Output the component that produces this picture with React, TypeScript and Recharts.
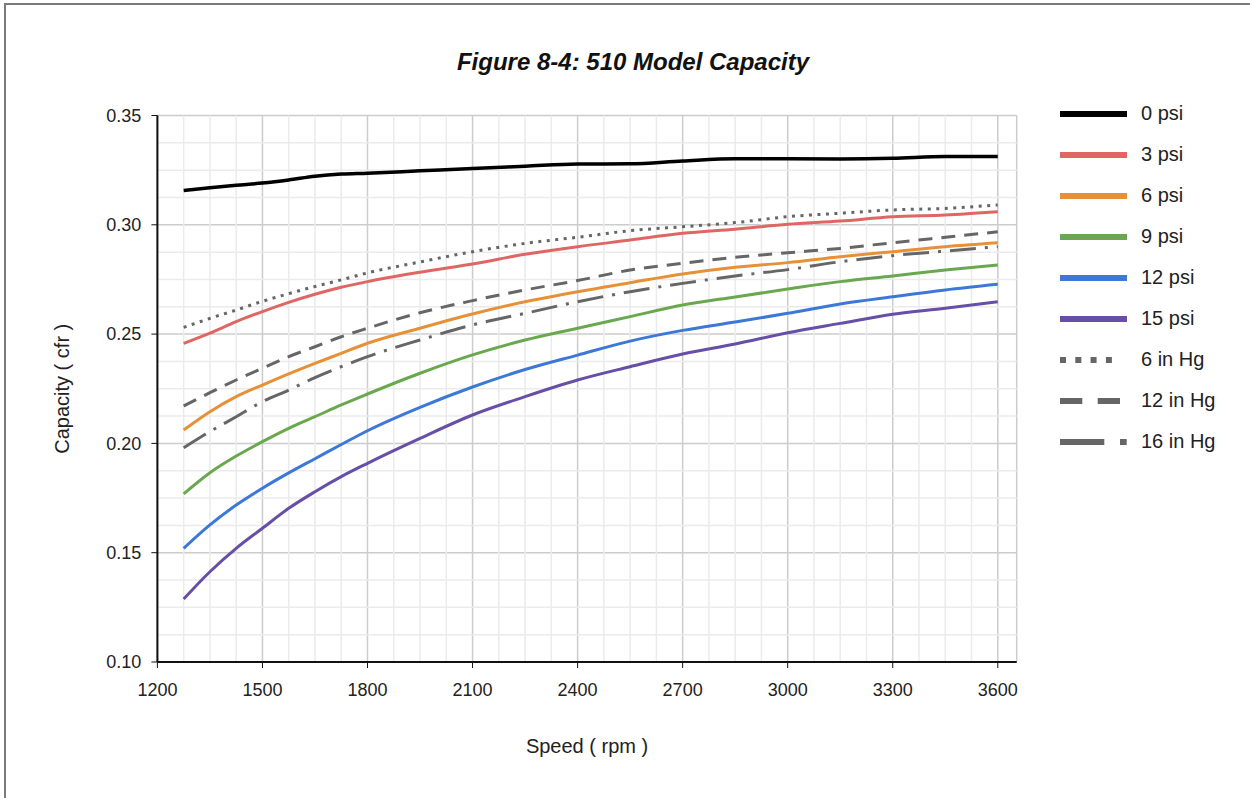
import React from 'react';
import {
  LineChart,
  Line,
  XAxis,
  YAxis,
  CartesianGrid,
  ReferenceLine,
  Legend,
  Label,
} from 'recharts';

// speed (rpm) at which the curves were read
const SPEEDS = [
  1275, 1350, 1425, 1500, 1575, 1650, 1725, 1800, 1950, 2100,
  2250, 2400, 2550, 2700, 2850, 3000, 3150, 3300, 3450, 3600,
];

// capacity (cfr) per pressure / vacuum condition
const PSI_0 = [
  0.3157, 0.317, 0.3181, 0.3191, 0.3205, 0.3222, 0.3232, 0.3236, 0.3247, 0.3258,
  0.3268, 0.3278, 0.3279, 0.3292, 0.3302, 0.3302, 0.3301, 0.3304, 0.3313, 0.3313,
];
const PSI_3 = [
  0.2457, 0.2504, 0.2557, 0.2603, 0.2645, 0.2682, 0.2714, 0.274, 0.2783, 0.2821,
  0.2865, 0.29, 0.293, 0.2961, 0.298, 0.3002, 0.3017, 0.3037, 0.3045, 0.306,
];
const PSI_6 = [
  0.2061, 0.2145, 0.2214, 0.2267, 0.2318, 0.2366, 0.2412, 0.2458, 0.2527, 0.2592,
  0.2648, 0.2694, 0.2735, 0.2775, 0.2806, 0.2827, 0.2854, 0.2877, 0.29, 0.2918,
];
const PSI_9 = [
  0.1769, 0.1866, 0.1942, 0.2008, 0.2069, 0.2122, 0.2176, 0.2226, 0.2321, 0.2405,
  0.2473, 0.2527, 0.258, 0.2633, 0.267, 0.2706, 0.274, 0.2766, 0.2793, 0.2816,
];
const PSI_12 = [
  0.152, 0.1627, 0.1718, 0.1795, 0.1865, 0.193, 0.1995, 0.2058, 0.2165, 0.2258,
  0.2338, 0.2404, 0.2468, 0.2517, 0.2555, 0.2595, 0.2638, 0.2671, 0.2702, 0.2728,
];
const PSI_15 = [
  0.1288, 0.1413, 0.152, 0.1612, 0.1703, 0.1779, 0.1848, 0.1909, 0.2023, 0.213,
  0.2214, 0.229, 0.2351, 0.2409, 0.2455, 0.2506, 0.2549, 0.2591, 0.2618, 0.2648,
];
const HG_6 = [
  0.2531, 0.2572, 0.261, 0.265, 0.2685, 0.2718, 0.2748, 0.278, 0.283, 0.2877,
  0.2915, 0.2943, 0.2973, 0.2991, 0.301, 0.3037, 0.3053, 0.3068, 0.3075, 0.3091,
];
const HG_12 = [
  0.2171, 0.2232, 0.229, 0.2344, 0.2397, 0.2442, 0.2488, 0.2527, 0.2598, 0.2653,
  0.2702, 0.2745, 0.2793, 0.2824, 0.2851, 0.2872, 0.2892, 0.2918, 0.2943, 0.2968,
];
const HG_16 = [
  0.198, 0.2054, 0.2122, 0.2191, 0.2244, 0.2301, 0.2351, 0.2397, 0.2473, 0.2542,
  0.2595, 0.2648, 0.2694, 0.2732, 0.2766, 0.2795, 0.2831, 0.2859, 0.288, 0.29,
];

const X_TICKS = [1200, 1500, 1800, 2100, 2400, 2700, 3000, 3300, 3600];
const Y_TICKS = [0.1, 0.15, 0.2, 0.25, 0.3, 0.35];

const SERIES = [
  { key: 'psi0', name: '0 psi', values: PSI_0, color: '#000000', dash: undefined, legendDash: undefined, legendLen: 67 },
  { key: 'psi3', name: '3 psi', values: PSI_3, color: '#e06666', dash: undefined, legendDash: undefined, legendLen: 67 },
  { key: 'psi6', name: '6 psi', values: PSI_6, color: '#e69138', dash: undefined, legendDash: undefined, legendLen: 67 },
  { key: 'psi9', name: '9 psi', values: PSI_9, color: '#6aa84f', dash: undefined, legendDash: undefined, legendLen: 67 },
  { key: 'psi12', name: '12 psi', values: PSI_12, color: '#3c78d8', dash: undefined, legendDash: undefined, legendLen: 67 },
  { key: 'psi15', name: '15 psi', values: PSI_15, color: '#674ea7', dash: undefined, legendDash: undefined, legendLen: 67 },
  { key: 'hg6', name: '6 in Hg', values: HG_6, color: '#666666', dash: '3 5.5', legendDash: '6 9.3', legendLen: 53 },
  { key: 'hg12', name: '12 in Hg', values: HG_12, color: '#666666', dash: '14 9', legendDash: '22.3 15.4', legendLen: 60 },
  { key: 'hg16', name: '16 in Hg', values: HG_16, color: '#666666', dash: '26 9 3 9', legendDash: '44.3 15.7 6.7 60', legendLen: 67 },
];

const data = SPEEDS.map((rpm, i) => {
  const row: Record<string, number> = { rpm };
  SERIES.forEach((s) => {
    row[s.key] = s.values[i];
  });
  return row;
});

// light minor grid: 4 divisions per major step
const X_MINOR: number[] = [];
for (let v = 1275; v < 3654; v += 75) if (v % 300 !== 0) X_MINOR.push(v);
const Y_MINOR: number[] = [];
for (let i = 1; i < 20; i++) if (i % 4 !== 0) Y_MINOR.push(+(0.1 + i * 0.0125).toFixed(4));

const FONT = '"Liberation Sans", Arial, sans-serif';

const LegendBox = () => (
  <div style={{ fontFamily: FONT, fontSize: 20, color: '#222' }}>
    {SERIES.map((s) => (
      <div key={s.key} style={{ display: 'flex', alignItems: 'center', height: 41 }}>
        <svg width={80} height={12} style={{ display: 'block' }}>
          <line
            x1={0}
            y1={6}
            x2={s.legendLen}
            y2={6}
            stroke={s.color}
            strokeWidth={6}
            strokeDasharray={s.legendDash}
          />
        </svg>
        <span style={{ marginLeft: 1 }}>{s.name}</span>
      </div>
    ))}
  </div>
);

const App: React.FC = () => {
  return (
    <div
      style={{
        position: 'absolute',
        left: 0,
        top: 0,
        width: 1250,
        height: 798,
        overflow: 'hidden',
        background: '#fff',
        fontFamily: FONT,
      }}
    >
      <div
        style={{
          position: 'absolute',
          left: 4,
          top: 3,
          width: 1246,
          height: 795,
          borderTop: '2px solid #7a7a7a',
          borderLeft: '2px solid #7a7a7a',
        }}
      />
      <div
        style={{
          position: 'absolute',
          left: 0,
          top: 48,
          width: 1266,
          textAlign: 'center',
          fontSize: 24,
          fontWeight: 'bold',
          fontStyle: 'italic',
          color: '#111',
        }}
      >
        Figure 8-4: 510 Model Capacity
      </div>
      <LineChart
        width={1250}
        height={798}
        data={data}
        margin={{ top: 115.5, right: 233.3, bottom: 36, left: 0 }}
      >
        <CartesianGrid stroke="#cccccc" strokeWidth={1.5} />
        {X_MINOR.map((v) => (
          <ReferenceLine key={'x' + v} x={v} stroke="#ebebeb" strokeWidth={1.5} />
        ))}
        {Y_MINOR.map((v) => (
          <ReferenceLine key={'y' + v} y={v} stroke="#ebebeb" strokeWidth={1.5} />
        ))}
        <XAxis
          type="number"
          dataKey="rpm"
          domain={[1200, 3654]}
          ticks={X_TICKS}
          interval={0}
          height={100}
          tickSize={6}
          tickMargin={15}
          axisLine={{ stroke: '#111', strokeWidth: 2 }}
          tickLine={{ stroke: '#111' }}
          tick={{ fill: '#222', fontSize: 18, fontFamily: FONT }}
        >
          <Label
            value="Speed ( rpm )"
            position="insideBottom"
            offset={9}
            style={{ fill: '#222', fontSize: 20, fontFamily: FONT }}
          />
        </XAxis>
        <YAxis
          type="number"
          domain={[0.1, 0.35]}
          ticks={Y_TICKS}
          interval={0}
          width={157.4}
          tickSize={6}
          tickMargin={10}
          tickFormatter={(v: number) => v.toFixed(2)}
          axisLine={{ stroke: '#111', strokeWidth: 2 }}
          tickLine={{ stroke: '#111' }}
          tick={{ fill: '#222', fontSize: 18, fontFamily: FONT }}
        >
          <Label
            value="Capacity ( cfr )"
            angle={-90}
            position="center"
            dx={-17}
            style={{ fill: '#222', fontSize: 20, fontFamily: FONT, textAnchor: 'middle' }}
          />
        </YAxis>
        {SERIES.map((s) => (
          <Line
            key={s.key}
            type="monotone"
            dataKey={s.key}
            name={s.name}
            stroke={s.color}
            strokeWidth={s.key === 'psi0' ? 3.5 : 3}
            strokeDasharray={s.dash}
            dot={false}
            activeDot={false}
            isAnimationActive={false}
          />
        ))}
        <Legend
          layout="horizontal"
          verticalAlign="middle"
          wrapperStyle={{ left: 1060, top: 93, width: 190 }}
          content={() => <LegendBox />}
        />
      </LineChart>
    </div>
  );
};

export default App;
